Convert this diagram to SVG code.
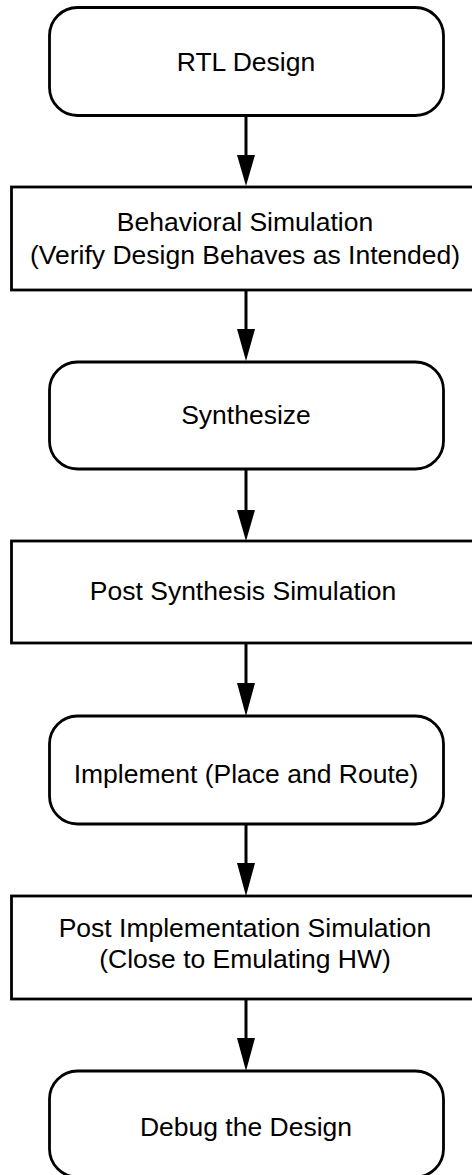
<svg xmlns="http://www.w3.org/2000/svg" width="472" height="1175" viewBox="0 0 472 1175">
<defs>
<style>
.box{fill:#fff;stroke:#000;stroke-width:2.8}
.t{font-family:"Liberation Sans",Arial,sans-serif;font-size:26.5px;fill:#000;text-anchor:middle}
.c{stroke:#000;stroke-width:3;fill:none}
.h{fill:#000}
</style>
</defs>
<rect width="472" height="1175" fill="#fff"/>
<g id="connectors">
<line class="c" x1="246" y1="115" x2="246" y2="160"/>
<path class="h" d="M237,155 L255,155 L246,186 Z"/>
<line class="c" x1="246" y1="290" x2="246" y2="335"/>
<path class="h" d="M237,329 L255,329 L246,361 Z"/>
<line class="c" x1="246" y1="469" x2="246" y2="515"/>
<path class="h" d="M237,510 L255,510 L246,541 Z"/>
<line class="c" x1="246" y1="643" x2="246" y2="688"/>
<path class="h" d="M237,683 L255,683 L246,716 Z"/>
<line class="c" x1="246" y1="824" x2="246" y2="868"/>
<path class="h" d="M237,863 L255,863 L246,896 Z"/>
<line class="c" x1="246" y1="999" x2="246" y2="1043"/>
<path class="h" d="M237,1038 L255,1038 L246,1071 Z"/>
</g>
<g id="n1">
<rect class="box" x="49.5" y="7.5" width="394" height="108" rx="28"/>
<text class="t" x="246" y="71">RTL Design</text>
</g>
<g id="n2">
<rect class="box" x="11.5" y="187" width="472" height="103"/>
<text class="t" x="245" y="231">Behavioral Simulation</text>
<text class="t" x="245" y="264">(Verify Design Behaves as Intended)</text>
</g>
<g id="n3">
<rect class="box" x="49.5" y="362" width="394" height="107" rx="28"/>
<text class="t" x="246" y="424">Synthesize</text>
</g>
<g id="n4">
<rect class="box" x="11.5" y="541" width="472" height="102"/>
<text class="t" x="243" y="600">Post Synthesis Simulation</text>
</g>
<g id="n5">
<rect class="box" x="49.5" y="716" width="394" height="108" rx="28"/>
<text class="t" x="246" y="783">Implement (Place and Route)</text>
</g>
<g id="n6">
<rect class="box" x="11.5" y="896" width="472" height="103"/>
<text class="t" x="245" y="937">Post Implementation Simulation</text>
<text class="t" x="245" y="968">(Close to Emulating HW)</text>
</g>
<g id="n7">
<rect class="box" x="49.5" y="1071" width="394" height="106" rx="28"/>
<text class="t" x="246" y="1136">Debug the Design</text>
</g>
</svg>
